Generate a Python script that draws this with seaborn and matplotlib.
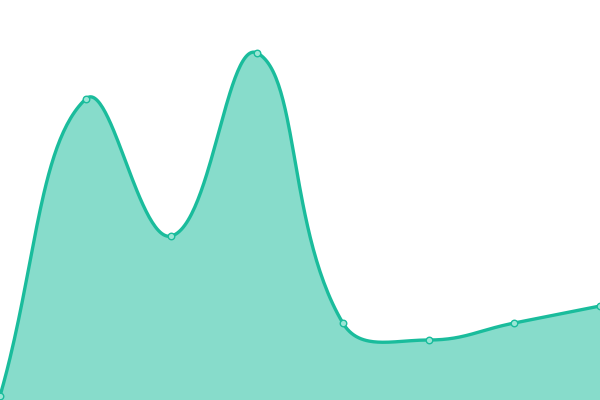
import numpy as np
import pandas as pd
import seaborn as sns
import matplotlib.pyplot as plt

categories = ["A", "B", "C", "D", "E", "F", "G", "H"]
values = [4, 301, 164, 347, 77, 60, 77, 94]

line_color = "#1abc9c"


def smooth_curve(xs, ys, smooth=0.42, n=60):
    # bezier smoothing similar to echarts "smooth: true"
    pts = np.column_stack([xs, ys]).astype(float)
    k = len(pts)
    cps = []
    for i in range(k):
        p = pts[i]
        prev = pts[i - 1] if i > 0 else p
        nxt = pts[i + 1] if i < k - 1 else p
        v = nxt - prev
        d0 = np.hypot(*(p - prev))
        d1 = np.hypot(*(nxt - p))
        r = d1 / (d0 + d1) if (d0 + d1) > 0 else 0.5
        cps.append((p - v * smooth * (1 - r), p + v * smooth * r))
    out = []
    t = np.linspace(0, 1, n)[:, None]
    for i in range(k - 1):
        p0, p3 = pts[i], pts[i + 1]
        c1 = cps[i][1]
        c2 = cps[i + 1][0]
        seg = ((1 - t) ** 3) * p0 + 3 * ((1 - t) ** 2) * t * c1 + 3 * (1 - t) * t ** 2 * c2 + t ** 3 * p3
        out.append(seg if i == 0 else seg[1:])
    out = np.vstack(out)
    return out[:, 0], out[:, 1]


# work in display-like units so smoothing matches pixel geometry
xpos = np.arange(len(categories)) * (600 / (len(categories) - 1))
sx, sy = smooth_curve(xpos, values)
curve = pd.DataFrame({"x": sx, "y": sy})
pts = pd.DataFrame({"x": xpos, "y": values})

sns.set_style("white")
fig = plt.figure(figsize=(6, 4), dpi=100)
ax = fig.add_axes([0, 0, 1, 1])
ax.fill_between(curve["x"], curve["y"], 0, color=line_color, alpha=0.52, linewidth=0)
sns.lineplot(data=curve, x="x", y="y", color=line_color, linewidth=2.4, sort=False, ax=ax)
sns.scatterplot(data=pts, x="x", y="y", s=22, color="#9be6d6", edgecolor=line_color,
                linewidth=1, zorder=5, clip_on=False, ax=ax)
ax.set_xlim(0, 600)
ax.set_ylim(0, 400)
ax.axis("off")
fig.savefig("out.png", dpi=100)
